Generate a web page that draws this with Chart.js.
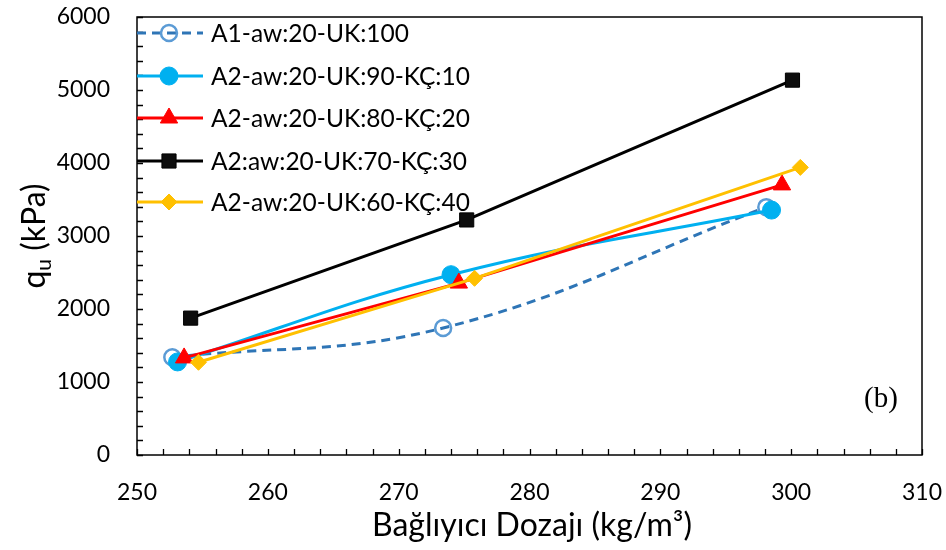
<!DOCTYPE html>
<html>
<head>
<meta charset="utf-8">
<script src="https://cdn.jsdelivr.net/npm/chart.js@4.4.0/dist/chart.umd.min.js"></script>
<style>
    html, body { margin: 0; padding: 0; background: #fff; }
    #wrap { width: 946px; height: 550px; }
</style>
</head>
<body>
<div id="wrap"><canvas id="chart" width="946" height="550"></canvas></div>
<script>
// Binder dosage (kg/m3) and unconfined strength qu (kPa)
const seriesNames = [
    'A1-aw:20-UK:100',
    'A2-aw:20-UK:90-KÇ:10',
    'A2-aw:20-UK:80-KÇ:20',
    'A2:aw:20-UK:70-KÇ:30',
    'A2-aw:20-UK:60-KÇ:40'
];
const doseA1 = [252.7, 273.4, 298.1];
const quA1 = [1340, 1740, 3395];
const doseKC10 = [253.1, 274.0, 298.5];
const quKC10 = [1275, 2470, 3355];
const doseKC20 = [253.6, 274.6, 299.3];
const quKC20 = [1330, 2355, 3700];
const doseKC30 = [254.1, 275.2, 300.1];
const quKC30 = [1875, 3220, 5135];
const doseKC40 = [254.7, 275.8, 300.7];
const quKC40 = [1270, 2420, 3940];

const xTicks = [250, 260, 270, 280, 290, 300, 310];
const yTicks = [0, 1000, 2000, 3000, 4000, 5000, 6000];

const FONT = 'Lato, "Open Sans", sans-serif';

function toPoints(xs, ys) {
    return xs.map((x, i) => ({ x: x, y: ys[i] }));
}

const datasets = [
    {
        label: seriesNames[0], data: toPoints(doseA1, quA1),
        borderColor: '#2E75B6', borderWidth: 3, borderDash: [9, 6], tension: 0.4,
        pointStyle: 'circle', pointRadius: 8, pointBorderWidth: 2.5,
        pointBorderColor: '#5B9BD5', pointBackgroundColor: 'rgba(255,255,255,0)', order: 5
    },
    {
        label: seriesNames[1], data: toPoints(doseKC10, quKC10),
        borderColor: '#00B0F0', borderWidth: 3, tension: 0.4,
        pointStyle: 'circle', pointRadius: 9, pointBorderWidth: 1,
        pointBorderColor: '#00B0F0', pointBackgroundColor: '#00B0F0', order: 4
    },
    {
        label: seriesNames[2], data: toPoints(doseKC20, quKC20),
        borderColor: '#FF0000', borderWidth: 3, tension: 0,
        pointStyle: 'triangle', pointRadius: 10, pointBorderWidth: 1,
        pointBorderColor: '#FF0000', pointBackgroundColor: '#FF0000', order: 3
    },
    {
        label: seriesNames[3], data: toPoints(doseKC30, quKC30),
        borderColor: '#000000', borderWidth: 3, tension: 0,
        pointStyle: 'rect', pointRadius: 10, pointBorderWidth: 1,
        pointBorderColor: '#000000', pointBackgroundColor: '#0D0D0D', order: 2
    },
    {
        label: seriesNames[4], data: toPoints(doseKC40, quKC40),
        borderColor: '#FFC000', borderWidth: 3, tension: 0,
        pointStyle: 'rectRot', pointRadius: 8, pointBorderWidth: 1,
        pointBorderColor: '#FFC000', pointBackgroundColor: '#FFC000', order: 1
    }
];
datasets.forEach(ds => { ds.showLine = true; ds.fill = false; });

// frame, inward ticks, axis titles, legend and panel tag
const decorPlugin = {
    id: 'decor',
    afterDraw(chart) {
        const ctx = chart.ctx;
        const area = chart.chartArea;
        const xs = chart.scales.x;
        const ys = chart.scales.y;
        ctx.save();

        ctx.strokeStyle = '#000';
        ctx.lineWidth = 1.5;
        ctx.strokeRect(area.left, area.top, area.right - area.left, area.bottom - area.top);

        ctx.lineWidth = 1.3;
        ctx.beginPath();
        for (let v = 250; v <= 310; v += 2) {
            const px = Math.round(xs.getPixelForValue(v)) + 0.5;
            ctx.moveTo(px, area.bottom);
            ctx.lineTo(px, area.bottom - 6);
        }
        for (let v = 0; v <= 6000; v += 200) {
            const py = Math.round(ys.getPixelForValue(v)) + 0.5;
            ctx.moveTo(area.left, py);
            ctx.lineTo(area.left + 6, py);
        }
        ctx.stroke();

        // y title with subscript
        ctx.fillStyle = '#000';
        ctx.translate(35, (area.top + area.bottom) / 2);
        ctx.rotate(-Math.PI / 2);
        ctx.textBaseline = 'middle';
        ctx.font = '32px ' + FONT;
        const partQ = 'q';
        const partU = 'u';
        const partRest = ' (kPa)';
        const wQ = ctx.measureText(partQ).width;
        const wRest = ctx.measureText(partRest).width;
        ctx.font = '21px ' + FONT;
        const wU = ctx.measureText(partU).width;
        let x0 = -(wQ + wU + wRest) / 2;
        ctx.font = '32px ' + FONT;
        ctx.textAlign = 'left';
        ctx.fillText(partQ, x0, 0);
        ctx.font = '21px ' + FONT;
        ctx.fillText(partU, x0 + wQ, 9);
        ctx.font = '32px ' + FONT;
        ctx.fillText(partRest, x0 + wQ + wU, 0);
        ctx.setTransform(1, 0, 0, 1, 0, 0);

        // x title
        ctx.textAlign = 'center';
        ctx.textBaseline = 'middle';
        ctx.font = '32px ' + FONT;
        ctx.fillText('Bağlıyıcı Dozajı (kg/m³)', 532, 526);

        // panel tag
        ctx.font = '29px "Liberation Serif", "Times New Roman", serif';
        ctx.fillText('(b)', 881, 399);

        // legend
        const rowY = [33, 76, 118, 161, 202];
        chart.data.datasets.forEach((ds, i) => {
            const y = rowY[i];
            ctx.save();
            ctx.strokeStyle = ds.borderColor;
            ctx.lineWidth = ds.borderWidth;
            ctx.setLineDash(ds.borderDash || []);
            ctx.beginPath();
            ctx.moveTo(area.left, y);
            ctx.lineTo(203, y);
            ctx.stroke();
            ctx.setLineDash([]);
            ctx.fillStyle = ds.pointBackgroundColor;
            ctx.strokeStyle = ds.pointBorderColor;
            ctx.lineWidth = ds.pointBorderWidth;
            Chart.helpers.drawPoint(ctx, {
                pointStyle: ds.pointStyle,
                radius: ds.pointRadius,
                borderWidth: ds.pointBorderWidth,
                rotation: 0
            }, 169, y);
            ctx.restore();
            ctx.fillStyle = '#000';
            ctx.textAlign = 'left';
            ctx.textBaseline = 'middle';
            ctx.font = '24.5px ' + FONT;
            ctx.fillText(ds.label, 211, y + 1);
        });

        ctx.restore();
    }
};

new Chart(document.getElementById('chart'), {
    type: 'scatter',
    data: { datasets: datasets },
    options: {
        responsive: false,
        animation: false,
        layout: { padding: { top: 17, right: 24, left: 0, bottom: 0 } },
        plugins: {
            legend: { display: false },
            tooltip: { enabled: false }
        },
        scales: {
            x: {
                type: 'linear', min: 250, max: 310,
                afterFit(scale) {
                    scale.height = 95;
                    scale.paddingLeft = 0;
                    scale.paddingRight = 0;
                },
                afterBuildTicks(scale) { scale.ticks = xTicks.map(v => ({ value: v })); },
                grid: { display: false, drawTicks: false },
                border: { display: false },
                ticks: { color: '#000', padding: 24, font: { family: FONT, size: 23 }, callback: v => String(v) }
            },
            y: {
                type: 'linear', min: 0, max: 6000,
                afterFit(scale) {
                    scale.width = 137;
                    scale.paddingTop = 0;
                    scale.paddingBottom = 0;
                },
                afterBuildTicks(scale) { scale.ticks = yTicks.map(v => ({ value: v })); },
                grid: { display: false, drawTicks: false },
                border: { display: false },
                ticks: { color: '#000', padding: 27, font: { family: FONT, size: 23 }, callback: v => String(v) }
            }
        }
    },
    plugins: [decorPlugin]
});
</script>
</body>
</html>
